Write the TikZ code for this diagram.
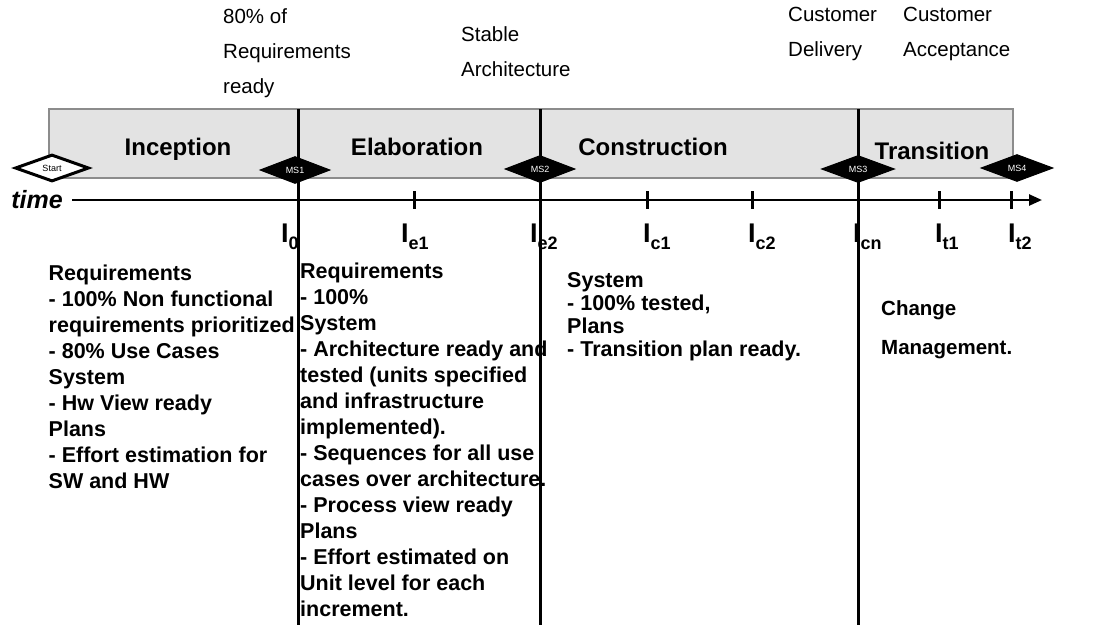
\documentclass[tikz,border=0pt]{standalone}
\usepackage{fontspec}
\setmainfont{Liberation Sans}
\usepackage{xcolor}
\usetikzlibrary{shapes.geometric}
\usetikzlibrary{arrows.meta}
\definecolor{bandgray}{RGB}{227,227,227}
\definecolor{bandline}{RGB}{140,140,140}
\newcommand{\fsz}[2]{\fontsize{#1}{#2}\selectfont}
\newcommand{\incsub}[1]{\raisebox{-7pt}{\fsz{18}{18}#1}}

\begin{document}
\begin{tikzpicture}[x=1pt, y=-1pt,
    phase/.style={anchor=base, font=\fsz{24}{28}\bfseries},
    toplbl/.style={anchor=north west, inner sep=0pt, align=left, font=\fsz{20.5}{35}},
    blk/.style={anchor=north west, inner sep=0pt, align=left, font=\fsz{21.5}{26}\bfseries},
    ms/.style={diamond, draw=black, fill=black, text=white, line width=1pt, inner sep=0pt,
        minimum width=70pt, minimum height=27pt, font=\fsz{9}{9}},
    startms/.style={ms, fill=white, text=black, line width=3pt, minimum width=74pt},
    ilbl/.style={anchor=base west, inner sep=0pt, font=\fsz{27}{27}\bfseries},
    mline/.style={line width=3pt},
    tickmark/.style={line width=3pt}]
    \useasboundingbox (0,0) rectangle (1095,625);
    % phase band
    \draw[fill=bandgray, draw=bandline, line width=1.5pt] (49,109) rectangle (1013,178);
    \node[phase] (inc) at (178,155) {Inception};
    \node[phase] (ela) at (417,155) {Elaboration};
    \node[phase] (con) at (653,155) {Construction};
    \node[phase] (tra) at (932,159) {Transition};
    % milestone lines
    \foreach \n/\x in {1/298, 2/540, 3/858} {
        \coordinate (top\n) at (\x,109);
        \coordinate (bot\n) at (\x,625);
        \draw[mline] (top\n) -- (bot\n);
    }
    % time axis
    \node[anchor=base, inner sep=0pt, font=\fsz{25}{25}\bfseries\itshape] (time) at (37,208) {time};
    \coordinate (ax0) at (72,200);
    \coordinate (ax1) at (1042,200);
    \draw[line width=2.5pt, -{Triangle[length=13pt, width=11pt]}] (ax0) -- (ax1);
    \foreach \x in {414, 647, 752, 939, 1011} {
        \draw[tickmark] (\x,191) -- (\x,209);
    }
    % milestones
    \node[startms] (start) at (52,168) {Start};
    \node[ms] (ms1) at (295,170) {MS1};
    \node[ms] (ms2) at (540,169) {MS2};
    \node[ms, minimum width=73pt] (ms3) at (858,169) {MS3};
    \node[ms, minimum width=72pt] (ms4) at (1017,168) {MS4};
    % increments
    \foreach \x/\s in {283/0, 403/e1, 532/e2, 645/c1, 750/c2, 855/cn, 937/t1, 1010/t2} {
        \node[ilbl] (i\s) at (\x-2,242) {I\incsub{\s}};
    }
    % milestone goals
    \node[toplbl] (goal1) at (223,8) {80\% of\\Requirements\\ready};
    \node[toplbl] (goal2) at (461,26) {Stable\\Architecture};
    \node[toplbl] (goal3) at (788,7) {Customer\\Delivery};
    \node[toplbl] (goal4) at (903,7) {Customer\\Acceptance};
    % phase results
    \node[blk] (resinc) at (48.5,264.5) {Requirements\\
        - 100\% Non functional\\
        requirements prioritized\\
        - 80\% Use Cases\\
        System\\
        - Hw View ready\\
        Plans\\
        - Effort estimation for\\
        SW and HW};
    \node[blk] (resela) at (300,262.5) {Requirements\\
        - 100\%\\
        System\\
        - Architecture ready and\\
        tested (units specified\\
        and infrastructure\\
        implemented).\\
        - Sequences for all use\\
        cases over architecture.\\
        - Process view ready\\
        Plans\\
        - Effort estimated on\\
        Unit level for each\\
        increment.};
    \node[blk, font=\fsz{21.5}{23}\bfseries] (rescon) at (567,272) {System\\
        - 100\% tested,\\
        Plans\\
        - Transition plan ready.};
    \node[blk, font=\fsz{20.5}{39}\bfseries] (restra) at (881,300) {Change\\
        Management.};
\end{tikzpicture}
\end{document}
